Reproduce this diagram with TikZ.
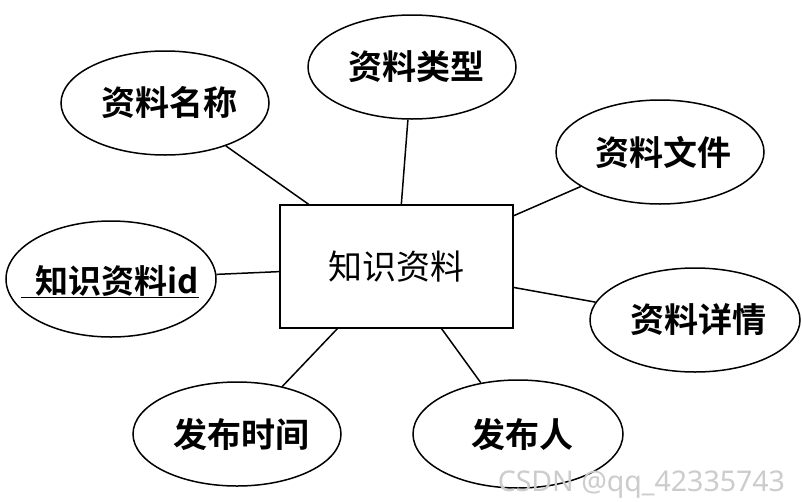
\documentclass[tikz,border=0pt]{standalone}
\usepackage{fontspec}
\newfontfamily\cjkb[BoldFont={Noto Sans CJK SC Bold}]{Noto Sans CJK SC}
\newfontfamily\cjk{Noto Sans CJK SC}
\newfontfamily\wm{Noto Sans}
\usetikzlibrary{shapes.geometric}
\begin{document}
\begin{tikzpicture}[x=1pt,y=-1pt,line width=1.5pt,
  attr/.style={draw,ellipse,minimum width=208pt,minimum height=104pt,inner sep=0pt,font=\cjkb\bfseries\fontsize{34}{34}\selectfont},
  ent/.style={draw,rectangle,minimum width=233pt,minimum height=123pt,inner sep=0pt,font=\cjk\fontsize{34}{34}\selectfont}]
\useasboundingbox[fill=white] (0,0) rectangle (802,501);
\node[ent] (e) at (396.5,266.5) {知识资料};
\node[attr] (a1) at (165,103) {\hspace*{8pt}资料名称};
\node[attr] (a2) at (412,67) {\hspace*{8pt}资料类型};
\node[attr] (a3) at (660,152) {\hspace*{6pt}资料文件};
\node[attr,minimum width=210pt,minimum height=116pt] (a4) at (111,279) {};
\node[font=\cjkb\bfseries\fontsize{33}{33}\selectfont,anchor=base west,inner sep=0pt] (t4) at (20,293) {\underline{\hspace*{15pt}知识资料id}};
\node[attr,minimum width=210pt] (a5) at (695,320) {\hspace*{6pt}资料详情};
\node[attr] (a6) at (237,434) {\hspace*{8pt}发布时间};
\node[attr,minimum width=210pt,minimum height=108pt] (a7) at (518,434) {\hspace*{8pt}发布人};
\draw (a1) -- (e);
\draw (a2) -- (e);
\draw (a3) -- (e);
\draw (a4) -- (e);
\draw (a5) -- (e);
\draw (a6) -- (e);
\draw (a7) -- (e);
\node[font=\wm\fontsize{28.5}{28.5}\selectfont,text=black!20,anchor=base west,inner sep=0pt] (w) at (497,491) {CSDN @qq\_42335743};
\end{tikzpicture}
\end{document}
